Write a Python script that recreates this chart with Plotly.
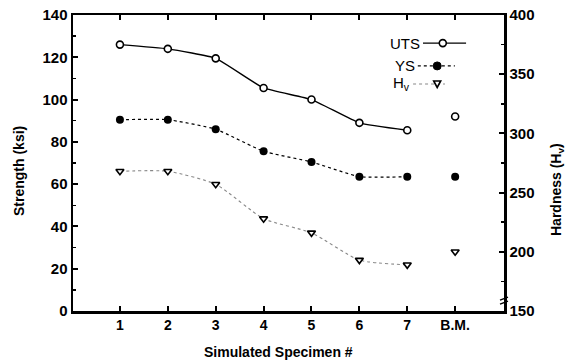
import plotly.graph_objects as go

specimens = [1, 2, 3, 4, 5, 6, 7]
bm_x = [8]
tick_vals = [1, 2, 3, 4, 5, 6, 7, 8]
tick_text = ["1", "2", "3", "4", "5", "6", "7", "B.M."]
strength_ticks = [0, 20, 40, 60, 80, 100, 120, 140]
hardness_ticks = [150, 200, 250, 300, 350, 400]

uts = [126, 124, 119.5, 105.5, 100, 89, 85.5]
uts_bm = [92]
ys = [90.5, 90.5, 86, 75.5, 70.5, 63.5, 63.5]
ys_bm = [63.5]
hv = [268, 268, 257, 228, 216, 193, 189]
hv_bm = [200]

FONT = "Liberation Sans"
fig = go.Figure()

fig.add_trace(go.Scatter(x=specimens, y=uts, mode="lines+markers",
    line=dict(color="black", width=1.4, shape="spline", smoothing=0.4),
    marker=dict(symbol="circle", size=7, color="white", line=dict(color="black", width=1.6)),
    showlegend=False))
fig.add_trace(go.Scatter(x=bm_x, y=uts_bm, mode="markers",
    marker=dict(symbol="circle", size=7, color="white", line=dict(color="black", width=1.6)),
    showlegend=False))
fig.add_trace(go.Scatter(x=specimens, y=ys, mode="lines+markers",
    line=dict(color="black", width=1.2, dash="dot", shape="spline", smoothing=0.4),
    marker=dict(symbol="circle", size=8, color="black"),
    showlegend=False))
fig.add_trace(go.Scatter(x=bm_x, y=ys_bm, mode="markers",
    marker=dict(symbol="circle", size=8, color="black"),
    showlegend=False))
fig.add_trace(go.Scatter(x=specimens, y=hv, mode="lines+markers", yaxis="y2",
    line=dict(color="#888888", width=1.1, dash="dot", shape="spline", smoothing=0.6),
    marker=dict(symbol="triangle-down", size=7, color="white", line=dict(color="black", width=1.6)),
    showlegend=False))
fig.add_trace(go.Scatter(x=bm_x, y=hv_bm, mode="markers", yaxis="y2",
    marker=dict(symbol="triangle-down", size=7, color="white", line=dict(color="black", width=1.6)),
    showlegend=False))

ytickfont = dict(family=FONT, size=15, color="black")
titlefont = dict(family=FONT, size=14, color="black")

fig.update_layout(
    width=575, height=362,
    margin=dict(l=73, r=71, t=15, b=51),
    paper_bgcolor="white", plot_bgcolor="white",
    font=dict(family=FONT, color="black"),
    hovermode=False,
    xaxis=dict(range=[0.02, 9.02], tickvals=tick_vals, ticktext=["<b>%s</b>" % t for t in tick_text],
               ticks="inside", ticklen=5, tickwidth=2, tickcolor="black",
               showline=True, linecolor="black", linewidth=2.5, mirror="ticks",
               showgrid=False, zeroline=False, automargin=False,
               tickfont=dict(family=FONT, size=14, color="black")),
    yaxis=dict(range=[0, 140], tickvals=strength_ticks,
               ticktext=["<b>%d</b>" % v for v in strength_ticks],
               ticks="inside", ticklen=5, tickwidth=2, tickcolor="black",
               minor=dict(ticks="inside", ticklen=3, tickwidth=1.5, tickcolor="black", dtick=10, showgrid=False),
               showline=True, linecolor="black", linewidth=2.5, automargin=False,
               showgrid=False, zeroline=False, tickfont=ytickfont),
    yaxis2=dict(range=[150, 400], overlaying="y", side="right",
                tickvals=hardness_ticks,
                ticktext=["<b>%d</b>" % v for v in hardness_ticks],
                ticks="inside", ticklen=5, tickwidth=2, tickcolor="black",
                minor=dict(ticks="inside", ticklen=3, tickwidth=1.5, tickcolor="black", dtick=25, showgrid=False),
                showline=True, linecolor="black", linewidth=2.5, automargin=False,
                showgrid=False, zeroline=False, tickfont=ytickfont),
)

# axis titles
fig.add_annotation(xref="paper", yref="paper", x=(278 - 73) / 431, y=(311 - 352) / 296,
                   text="<b>Simulated Specimen #</b>", showarrow=False,
                   xanchor="center", yanchor="middle", font=titlefont)
fig.add_annotation(xref="paper", yref="paper", x=(19 - 73) / 431, y=(311 - 171) / 296,
                   text="<b>Strength (ksi)</b>", showarrow=False, textangle=-90,
                   xanchor="center", yanchor="middle", font=titlefont)
fig.add_annotation(xref="paper", yref="paper", x=(557 - 73) / 431, y=(311 - 190) / 296,
                   text="<b>Hardness (H<sub>v</sub>)</b>", showarrow=False, textangle=-90,
                   xanchor="center", yanchor="middle", font=titlefont)

# legend drawn at top-right (text then sample)
leg = [
    ("UTS", 0.905, 0.812, 0.912, 0.858, "solid", 1.4, "black", "open_circle"),
    ("YS", 0.828, 0.800, 0.886, 0.845, "dot", 1.2, "black", "dot"),
    ("H<sub>v</sub>", 0.767, 0.789, 0.863, 0.845, "dot", 1.1, "#888888", "tri"),
]
for text, y, x0, x1, xm, dash, w, col, mk in leg:
    fig.add_annotation(xref="paper", yref="paper", x=x0 - 0.002, y=y, text=text, showarrow=False,
                       xanchor="right", yanchor="middle", font=dict(family=FONT, size=15, color="black"))
    fig.add_shape(type="line", xref="paper", yref="paper", x0=x0, x1=x1, y0=y, y1=y,
                  line=dict(color=col, width=w, dash=dash))
    if mk == "open_circle":
        fig.add_shape(type="circle", xref="paper", yref="paper", xsizemode="pixel", ysizemode="pixel",
                      xanchor=xm, yanchor=y, x0=-3.5, x1=3.5, y0=-3.5, y1=3.5,
                      fillcolor="white", line=dict(color="black", width=1.6))
    elif mk == "dot":
        fig.add_shape(type="circle", xref="paper", yref="paper", xsizemode="pixel", ysizemode="pixel",
                      xanchor=xm, yanchor=y, x0=-4, x1=4, y0=-4, y1=4,
                      fillcolor="black", line=dict(color="black", width=1))
    else:
        fig.add_shape(type="path", xref="paper", yref="paper", xsizemode="pixel", ysizemode="pixel",
                      xanchor=xm, yanchor=y, path="M -3.5 3 L 3.5 3 L 0 -3.5 Z",
                      fillcolor="white", line=dict(color="black", width=1.6))

# axis break mark on the right axis
fig.add_shape(type="path", xref="paper", yref="paper", xsizemode="pixel", ysizemode="pixel",
              xanchor=1.0, yanchor=0.04, path="M -4 -1 L 4 2 M -4 -5 L 4 -2",
              line=dict(color="black", width=1.5))

fig.write_html("out.html", config={"displayModeBar": False, "staticPlot": True},
               post_script="document.body.style.margin='0';document.body.style.overflow='hidden';")
